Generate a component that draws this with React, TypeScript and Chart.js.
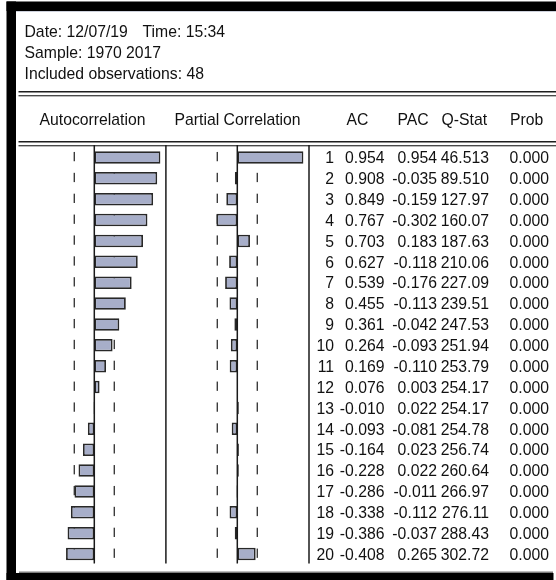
import React, { useEffect, useRef } from 'react';
import { Chart, registerables } from 'chart.js';

Chart.register(...registerables);

// ---------- data ----------
const lags = [1, 2, 3, 4, 5, 6, 7, 8, 9, 10, 11, 12, 13, 14, 15, 16, 17, 18, 19, 20];
const acf = [0.954, 0.908, 0.849, 0.767, 0.703, 0.627, 0.539, 0.455, 0.361, 0.264, 0.169, 0.076, -0.01, -0.093, -0.164, -0.228, -0.286, -0.338, -0.386, -0.408];
const pacf = [0.954, -0.035, -0.159, -0.302, 0.183, -0.118, -0.176, -0.113, -0.042, -0.093, -0.11, 0.003, 0.022, -0.081, 0.023, 0.022, -0.011, -0.112, -0.037, 0.265];
const qStat = [46.513, 89.51, 127.97, 160.07, 187.63, 210.06, 227.09, 239.51, 247.53, 251.94, 253.79, 254.17, 254.17, 254.78, 256.74, 260.64, 266.97, 276.11, 288.43, 302.72];
const prob = [0, 0, 0, 0, 0, 0, 0, 0, 0, 0, 0, 0, 0, 0, 0, 0, 0, 0, 0, 0];
const observations = 48;
const headerDate = 'Date: 12/07/19';
const headerTime = 'Time: 15:34';
const headerSample = 'Sample: 1970 2017';
const headerObs = 'Included observations: 48';
const columnTitles = ['Autocorrelation', 'Partial Correlation', 'AC', 'PAC', 'Q-Stat', 'Prob'];

const FONT = '15.75px "Liberation Sans", Arial, Helvetica, sans-serif';
const BAR_FILL = '#a7aec9';
const BAR_BORDER = '#282828';

const fmtQ = (v: number) => (v >= 100 ? v.toFixed(2) : v.toFixed(3));

const correlogramPlugin = {
  id: 'correlogram',
  beforeDraw(chart: any) {
    const { ctx, width, height } = chart;
    ctx.save();
    ctx.fillStyle = '#ffffff';
    ctx.fillRect(0, 0, width, height);

    // window frame
    ctx.fillStyle = '#000000';
    ctx.fillRect(6.5, 1.5, width - 6.5, 9.5);
    ctx.fillRect(6.5, 1.5, 9.5, height - 1.5);
    ctx.fillRect(6.5, 573, 547, 7);
    ctx.fillStyle = '#cdd1dc';
    ctx.fillRect(16, 11, width - 16, 1);
    ctx.fillStyle = '#7d7d7d';
    ctx.fillRect(19, 571.5, 534, 1.5);

    // double rules
    ctx.fillStyle = '#1e1e1e';
    ctx.fillRect(18.5, 91, width - 18.5, 1.5);
    ctx.fillRect(18.5, 95.2, width - 18.5, 1.1);
    ctx.fillRect(18.5, 141, width - 18.5, 1.5);
    ctx.fillRect(18.5, 145.2, width - 18.5, 1.1);

    // header text
    ctx.font = FONT;
    ctx.fillStyle = '#111111';
    ctx.textBaseline = 'alphabetic';
    ctx.textAlign = 'left';
    ctx.fillText(headerDate, 24.5, 37);
    ctx.fillText(headerTime, 142.5, 37);
    ctx.fillText(headerSample, 24.5, 58);
    ctx.fillText(headerObs, 24.5, 79);

    const titleX = [39.5, 174.5, 346.5, 397.5, 441.5, 510];
    columnTitles.forEach((t, i) => ctx.fillText(t, titleX[i], 125));

    // confidence bound dashes (behind bars)
    const bound = 2 / Math.sqrt(observations);
    const yS = chart.scales.y;
    ctx.strokeStyle = '#3c3c3c';
    ctx.lineWidth = 1.4;
    ['x', 'x2'].forEach((id) => {
      const s = chart.scales[id];
      [-bound, bound].forEach((b) => {
        const px = s.getPixelForValue(b);
        lags.forEach((_, i) => {
          const cy = yS.getPixelForValue(i);
          ctx.beginPath();
          ctx.moveTo(px, cy - 5.5);
          ctx.lineTo(px, cy + 3.8);
          ctx.stroke();
        });
      });
    });
    ctx.restore();
  },
  afterDatasetsDraw(chart: any) {
    const { ctx } = chart;
    const yS = chart.scales.y;
    const xA = chart.scales.x;
    const xP = chart.scales.x2;
    ctx.save();
    ctx.strokeStyle = '#1a1a1a';
    ctx.lineWidth = 1.5;
    const top = yS.top - 2;
    const bottom = yS.bottom - 1;
    [xA.getPixelForValue(0), xP.getPixelForValue(0), xA.right - 0.1, xP.right].forEach((px) => {
      ctx.beginPath();
      ctx.moveTo(px, top);
      ctx.lineTo(px, bottom);
      ctx.stroke();
    });

    // table text
    ctx.font = FONT;
    ctx.fillStyle = '#111111';
    ctx.textBaseline = 'alphabetic';
    ctx.textAlign = 'right';
    lags.forEach((lag, i) => {
      const by = yS.getPixelForValue(i) + 5.7;
      ctx.fillText(String(lag), 334, by);
      ctx.fillText(acf[i].toFixed(3), 384.5, by);
      ctx.fillText(pacf[i].toFixed(3), 437, by);
      ctx.fillText(fmtQ(qStat[i]), 489, by);
      ctx.fillText(prob[i].toFixed(3), 549, by);
    });
    ctx.restore();
  },
};

export default function App() {
  const ref = useRef<HTMLCanvasElement>(null);

  useEffect(() => {
    if (!ref.current) return;
    const barStyle = {
      backgroundColor: BAR_FILL,
      borderColor: BAR_BORDER,
      borderWidth: 1.8,
      borderSkipped: false as const,
      grouped: false,
      barPercentage: 0.6,
      categoryPercentage: 1,
    };
    const chart = new Chart(ref.current, {
      type: 'bar',
      data: {
        labels: lags.map(String),
        datasets: [
          { label: 'Autocorrelation', data: acf, xAxisID: 'x', yAxisID: 'y', ...barStyle },
          { label: 'Partial Correlation', data: pacf, xAxisID: 'x2', yAxisID: 'y', ...barStyle },
        ],
      },
      options: {
        indexAxis: 'y',
        responsive: false,
        animation: false,
        events: [],
        layout: { padding: { left: 22, right: 247, top: 147, bottom: 15.5 } },
        plugins: {
          legend: { display: false },
          tooltip: { enabled: false },
          title: { display: false },
        },
        scales: {
          x: {
            type: 'linear',
            position: 'bottom',
            stack: 'panels',
            stackWeight: 144,
            min: -1.0436,
            max: 1.0349,
            display: false,
          },
          x2: {
            type: 'linear',
            position: 'bottom',
            stack: 'panels',
            stackWeight: 143,
            min: -1.0292,
            max: 1.0349,
            display: false,
          },
          y: { type: 'category', display: false, offset: true },
        },
      },
      plugins: [correlogramPlugin],
    } as any);
    return () => chart.destroy();
  }, []);

  return (
    <div style={{ position: 'fixed', left: 0, top: 0, width: 556, height: 580, background: '#fff' }}>
      <canvas ref={ref} width={556} height={580} style={{ display: 'block' }} />
    </div>
  );
}
